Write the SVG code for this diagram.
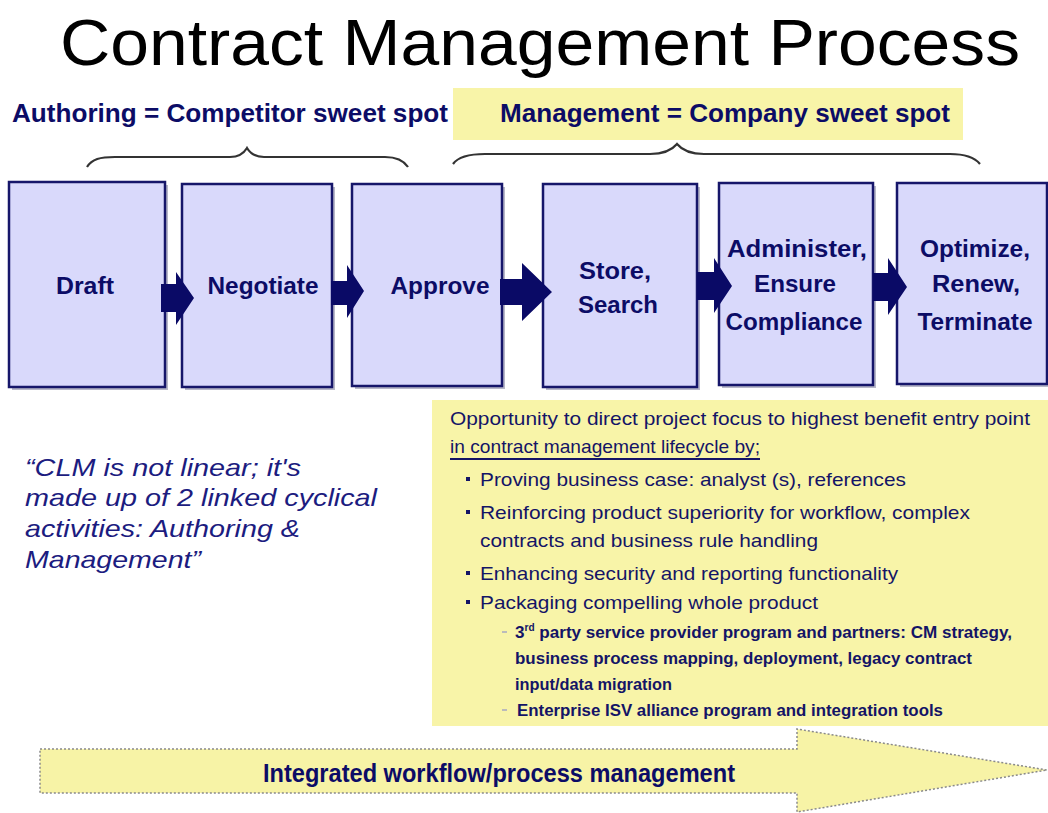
<svg xmlns="http://www.w3.org/2000/svg" width="1048" height="813" viewBox="0 0 1048 813">
  <style>
    .title { font-family: "Liberation Sans", Arial, sans-serif; font-size: 65px; fill: #000; }
    .head { font-family: "Liberation Sans", Arial, sans-serif; font-size: 25px; font-weight: bold; fill: #0c0c66; }
    .box { fill: #d9d9fb; stroke: #16166a; stroke-width: 2.5; }
    .shadow { fill: #b8b8c8; }
    .lbl { font-family: "Liberation Sans", Arial, sans-serif; font-size: 24px; font-weight: bold; fill: #0c0c66; text-anchor: middle; }
    .conn { fill: #0a0a66; }
    .brace { fill: none; stroke: #333; stroke-width: 2.2; }
    .note { fill: #f8f4a8; }
    .body { font-family: "Liberation Sans", Arial, sans-serif; font-size: 19px; fill: #141466; }
    .sub { font-family: "Liberation Sans", Arial, sans-serif; font-size: 17px; font-weight: bold; fill: #141466; }
    .quote { font-family: "Liberation Sans", Arial, sans-serif; font-size: 24px; font-style: italic; fill: #1c1c80; }
    .band { fill: #f7f3a6; stroke: #8a8a8a; stroke-width: 1.5; stroke-dasharray: 2 2; }
  </style>

  <rect width="1048" height="813" fill="#fff"/>

  <!-- Title -->
  <text class="title" x="540" y="65" text-anchor="middle" textLength="960" lengthAdjust="spacingAndGlyphs">Contract Management Process</text>

  <!-- Phase headings -->
  <g id="heading-authoring">
    <text class="head" x="12" y="122" textLength="436" lengthAdjust="spacingAndGlyphs">Authoring = Competitor sweet spot</text>
    <path class="brace" d="M87,167 C92,159 100,157 115,157 L230,157 C240,157 244,153 247,148 C250,153 254,157 264,157 L385,157 C398,157 404,161 408,167"/>
  </g>
  <g id="heading-management">
    <rect class="note" x="453" y="88" width="510" height="52"/>
    <text class="head" x="500" y="122" textLength="450" lengthAdjust="spacingAndGlyphs">Management = Company sweet spot</text>
    <path class="brace" d="M453,164 C458,157 468,154 485,154 L650,154 C665,154 672,150 677,144 C682,150 689,154 704,154 L950,154 C967,154 975,158 980,164"/>
  </g>

  <!-- Process steps -->
  <g id="step-draft">
    <rect class="shadow" x="12" y="185" width="156" height="205"/>
    <rect class="box" x="9" y="182" width="156" height="205"/>
    <text class="lbl" x="85" y="294" textLength="58" lengthAdjust="spacingAndGlyphs">Draft</text>
  </g>
  <g id="step-negotiate">
    <rect class="shadow" x="185" y="187" width="150" height="203"/>
    <rect class="box" x="182" y="184" width="150" height="203"/>
    <text class="lbl" x="263" y="294" textLength="111" lengthAdjust="spacingAndGlyphs">Negotiate</text>
  </g>
  <g id="step-approve">
    <rect class="shadow" x="355" y="187" width="150" height="202"/>
    <rect class="box" x="352" y="184" width="150" height="202"/>
    <text class="lbl" x="440" y="294" textLength="99" lengthAdjust="spacingAndGlyphs">Approve</text>
  </g>
  <g id="step-store">
    <rect class="shadow" x="546" y="187" width="154" height="203"/>
    <rect class="box" x="543" y="184" width="154" height="203"/>
    <text class="lbl" x="615" y="279" textLength="72" lengthAdjust="spacingAndGlyphs">Store,</text>
    <text class="lbl" x="618" y="313" textLength="80" lengthAdjust="spacingAndGlyphs">Search</text>
  </g>
  <g id="step-administer">
    <rect class="shadow" x="722" y="186" width="154" height="202"/>
    <rect class="box" x="719" y="183" width="154" height="202"/>
    <text class="lbl" x="797" y="257" textLength="140" lengthAdjust="spacingAndGlyphs">Administer,</text>
    <text class="lbl" x="795" y="292" textLength="82" lengthAdjust="spacingAndGlyphs">Ensure</text>
    <text class="lbl" x="794" y="330" textLength="137" lengthAdjust="spacingAndGlyphs">Compliance</text>
  </g>
  <g id="step-optimize">
    <rect class="shadow" x="900" y="186" width="150" height="201"/>
    <rect class="box" x="897" y="183" width="150" height="201"/>
    <text class="lbl" x="975" y="257" textLength="110" lengthAdjust="spacingAndGlyphs">Optimize,</text>
    <text class="lbl" x="976" y="292" textLength="88" lengthAdjust="spacingAndGlyphs">Renew,</text>
    <text class="lbl" x="975" y="330" textLength="115" lengthAdjust="spacingAndGlyphs">Terminate</text>
  </g>

  <!-- Connectors between steps -->
  <g id="connectors">
    <polygon class="conn" points="161,284 176,284 176,272 194,298 176,325 176,312 161,312"/>
    <polygon class="conn" points="331,281 347,281 347,265 364,291 347,318 347,305 331,305"/>
    <polygon class="conn" points="500,279 522,279 522,263 552,292 522,321 522,305 500,305"/>
    <polygon class="conn" points="697,272 714,272 714,258 732,286 714,313 714,300 697,300"/>
    <polygon class="conn" points="873,273 888,273 888,258 907,287 888,315 888,301 873,301"/>
  </g>

  <!-- Quote -->
  <g id="quote">
    <text class="quote" x="25" y="476" textLength="276" lengthAdjust="spacingAndGlyphs">“CLM is not linear; it's</text>
    <text class="quote" x="25" y="506" textLength="352" lengthAdjust="spacingAndGlyphs">made up of 2 linked cyclical</text>
    <text class="quote" x="25" y="537" textLength="275" lengthAdjust="spacingAndGlyphs">activities: Authoring &amp;</text>
    <text class="quote" x="25" y="568" textLength="176" lengthAdjust="spacingAndGlyphs">Management”</text>
  </g>

  <!-- Opportunity note -->
  <g id="opportunity-note">
    <rect class="note" x="432" y="400" width="616" height="326"/>
    <text class="body" x="450" y="425" textLength="580" lengthAdjust="spacingAndGlyphs">Opportunity to direct project focus to highest benefit entry point</text>
    <text class="body" x="450" y="453" textLength="310" lengthAdjust="spacingAndGlyphs">in contract management lifecycle by;</text>
    <line x1="450" y1="459" x2="760" y2="459" stroke="#141466" stroke-width="1.8"/>
    <g class="body">
      <rect x="466" y="477" width="4" height="4" fill="#141466"/>
      <text class="body" x="480" y="486" textLength="426" lengthAdjust="spacingAndGlyphs">Proving business case: analyst (s), references</text>
      <rect x="466" y="510" width="4" height="4" fill="#141466"/>
      <text class="body" x="480" y="519" textLength="490" lengthAdjust="spacingAndGlyphs">Reinforcing product superiority for workflow, complex</text>
      <text class="body" x="480" y="547" textLength="338" lengthAdjust="spacingAndGlyphs">contracts and business rule handling</text>
      <rect x="466" y="571" width="4" height="4" fill="#141466"/>
      <text class="body" x="480" y="580" textLength="418" lengthAdjust="spacingAndGlyphs">Enhancing security and reporting functionality</text>
      <rect x="466" y="600" width="4" height="4" fill="#141466"/>
      <text class="body" x="480" y="609" textLength="338" lengthAdjust="spacingAndGlyphs">Packaging compelling whole product</text>
    </g>
    <rect x="502" y="631" width="5" height="2" fill="#bbb"/>
    <text class="sub" x="515" y="638" textLength="497" lengthAdjust="spacingAndGlyphs">3<tspan font-size="10" dy="-7">rd</tspan><tspan dy="7"> party service provider program and partners: CM strategy,</tspan></text>
    <text class="sub" x="515" y="664" textLength="457" lengthAdjust="spacingAndGlyphs">business process mapping, deployment, legacy contract</text>
    <text class="sub" x="515" y="690" textLength="157" lengthAdjust="spacingAndGlyphs">input/data migration</text>
    <rect x="502" y="709" width="5" height="2" fill="#bbb"/>
    <text class="sub" x="517" y="716" textLength="426" lengthAdjust="spacingAndGlyphs">Enterprise ISV alliance program and integration tools</text>
  </g>

  <!-- Integrated workflow band -->
  <g id="workflow-band">
    <polygon class="band" points="40,749 797,749 797,729 1047,770 797,812 797,793 40,793"/>
    <text class="head" x="263" y="782" font-size="23" textLength="472" lengthAdjust="spacingAndGlyphs">Integrated workflow/process management</text>
  </g>
</svg>
